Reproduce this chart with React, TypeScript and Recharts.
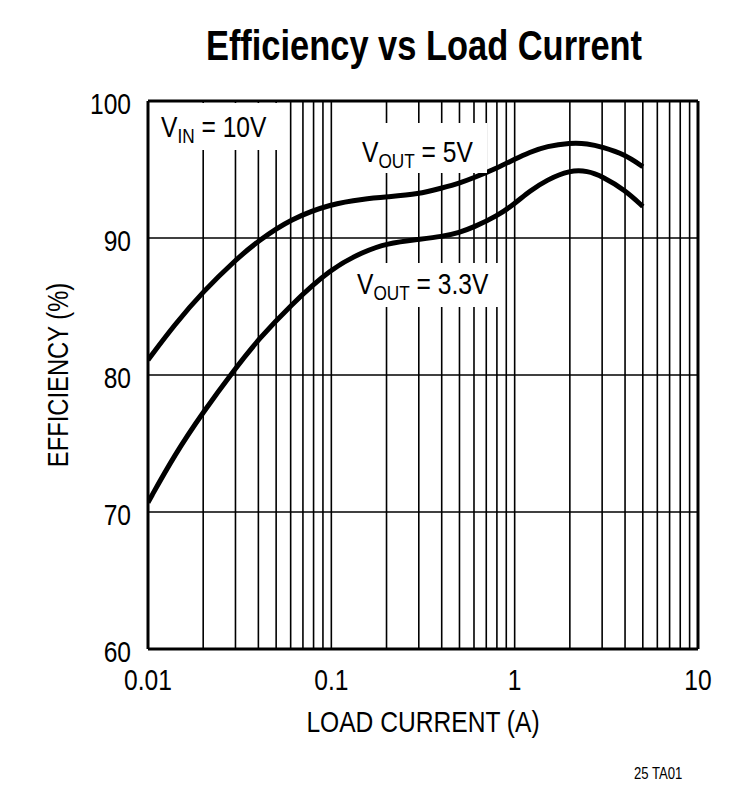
import type { ReactNode } from 'react';
import { CartesianGrid, Line, LineChart, ReferenceLine, XAxis, YAxis } from 'recharts';

const FONT = '"Liberation Sans", Arial, sans-serif';
const NARROW = 0.82;

// load current (A), shared by both curves
const loadCurrent = [
  0.01, 0.014, 0.02, 0.03, 0.04, 0.06, 0.1, 0.15, 0.2, 0.3, 0.4,
  0.5, 0.6, 0.8, 1, 1.2, 1.5, 2, 2.5, 3, 4, 5,
];
// efficiency (%) at VIN = 10V
const effVout5 = [
  81.1, 83.7, 86.1, 88.4, 89.8, 91.4, 92.5, 92.85, 93.0, 93.2, 93.65,
  94.0, 94.4, 95.1, 95.75, 96.25, 96.7, 96.95, 96.9, 96.65, 96.1, 95.2,
];
const effVout33 = [
  70.7, 74.2, 77.3, 80.5, 82.6, 85.1, 87.8, 89.0, 89.6, 89.9, 90.1,
  90.4, 90.8, 91.6, 92.5, 93.4, 94.25, 94.95, 94.9, 94.5, 93.5, 92.3,
];

const xTicks = [
  0.01, 0.02, 0.03, 0.04, 0.05, 0.06, 0.07, 0.08, 0.09,
  0.1, 0.2, 0.3, 0.4, 0.5, 0.6, 0.7, 0.8, 0.9,
  1, 2, 3, 4, 5, 6, 7, 8, 9, 10,
];
const xLabels = [0.01, 0.1, 1, 10];
const yTicks = [60, 70, 80, 90, 100];

const vout5 = loadCurrent.map((current, i) => ({ current, eff: effVout5[i] }));
const vout33 = loadCurrent.map((current, i) => ({ current, eff: effVout33[i] }));

const W = 746;
const H = 792;

// condensed look: Liberation Sans squeezed horizontally
function Narrow({
  x,
  y,
  size,
  anchor = 'start',
  bold = false,
  rotate = 0,
  children,
}: {
  x: number;
  y: number;
  size: number;
  anchor?: 'start' | 'middle' | 'end';
  bold?: boolean;
  rotate?: number;
  children: ReactNode;
}) {
  return (
    <g transform={`translate(${x} ${y}) rotate(${rotate}) scale(${NARROW} 1)`}>
      <text
        x={0}
        y={0}
        textAnchor={anchor}
        fontSize={size}
        fontFamily={FONT}
        fontWeight={bold ? 'bold' : 'normal'}
        fill="#000"
      >
        {children}
      </text>
    </g>
  );
}

function XTick(props: any) {
  const { x, y, payload } = props;
  if (!xLabels.includes(payload.value)) return <g />;
  return (
    <Narrow x={x} y={y + 35} size={30} anchor="middle">
      {String(payload.value)}
    </Narrow>
  );
}

function YTick(props: any) {
  const { x, y, payload } = props;
  return (
    <Narrow x={x} y={y + 13} size={30} anchor="end">
      {String(payload.value)}
    </Narrow>
  );
}

function Overlay() {
  return (
    <svg width={W} height={H} style={{ position: 'absolute', left: 0, top: 0, pointerEvents: 'none' }}>
      <Narrow x={424} y={60} size={42} anchor="middle" bold>
        Efficiency vs Load Current
      </Narrow>

      <rect x={150} y={103} width={132} height={47} fill="#fff" />
      <Narrow x={161} y={137} size={30}>
        V<tspan fontSize={21} dy={6}>IN</tspan>
        <tspan dy={-6}> = 10V</tspan>
      </Narrow>

      <rect x={355} y={123} width={132} height={50} fill="#fff" />
      <Narrow x={362} y={162} size={30}>
        V<tspan fontSize={21} dy={6}>OUT</tspan>
        <tspan dy={-6}> = 5V</tspan>
      </Narrow>

      <rect x={350} y={263} width={155} height={44} fill="#fff" />
      <Narrow x={357} y={294} size={30}>
        V<tspan fontSize={21} dy={6}>OUT</tspan>
        <tspan dy={-6}> = 3.3V</tspan>
      </Narrow>

      <Narrow x={423} y={732} size={30} anchor="middle">
        LOAD CURRENT (A)
      </Narrow>
      <Narrow x={68} y={375} size={29} anchor="middle" rotate={-90}>
        EFFICIENCY (%)
      </Narrow>

      <Narrow x={634} y={779} size={16}>
        25 TA01
      </Narrow>
    </svg>
  );
}

export default function App() {
  return (
    <div style={{ position: 'absolute', left: 0, top: 0, width: W, height: H, background: '#fff' }}>
      <LineChart width={W} height={H} margin={{ top: 101, right: 48, bottom: 103, left: 88 }}>
        <CartesianGrid stroke="#000" strokeWidth={1.6} />
        <XAxis
          dataKey="current"
          type="number"
          scale="log"
          domain={[0.01, 10]}
          ticks={xTicks}
          allowDataOverflow
          height={40}
          tickLine={false}
          tickMargin={0}
          axisLine={{ stroke: '#000', strokeWidth: 3 }}
          tick={<XTick />}
          interval={0}
        />
        <YAxis
          type="number"
          domain={[60, 100]}
          ticks={yTicks}
          width={60}
          tickLine={false}
          tickMargin={11}
          axisLine={{ stroke: '#000', strokeWidth: 3 }}
          tick={<YTick />}
          interval={0}
        />
        <ReferenceLine y={100} stroke="#000" strokeWidth={3} />
        <ReferenceLine x={10} stroke="#000" strokeWidth={3} />
        <Line
          data={vout5}
          dataKey="eff"
          type="basis"
          stroke="#000"
          strokeWidth={5}
          dot={false}
          isAnimationActive={false}
        />
        <Line
          data={vout33}
          dataKey="eff"
          type="basis"
          stroke="#000"
          strokeWidth={5}
          dot={false}
          isAnimationActive={false}
        />
      </LineChart>
      <Overlay />
    </div>
  );
}
